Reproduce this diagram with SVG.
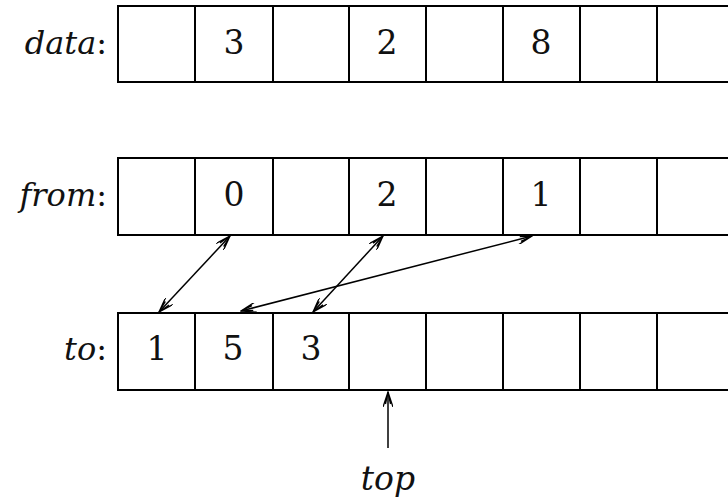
<svg xmlns="http://www.w3.org/2000/svg" width="728" height="502" viewBox="0 0 728 502">
<style>
.cell{fill:#fff;stroke:#000;stroke-width:2}
.lbl{font-family:'DejaVu Serif','Liberation Serif',serif;font-size:32px;fill:#111;text-anchor:end}
.it{font-style:italic}
.num{font-family:'DejaVu Serif','Liberation Serif',serif;font-size:33px;fill:#111;text-anchor:middle}
.conn{fill:none;stroke:#000;stroke-width:1.5}
</style>
<defs>
<marker id="ah" viewBox="0 0 16 10" refX="15" refY="5" markerWidth="16" markerHeight="10" markerUnits="userSpaceOnUse" orient="auto-start-reverse">
<path d="M0,0 L15,5 L0,10 M3,2.5 L15,5 L3,7.5" fill="none" stroke="#000" stroke-width="1.3"/>
</marker>
</defs>
<g id="data">
<text class="lbl" x="107" y="54"><tspan class="it">data</tspan>:</text>
<path class="cell" d="M730,6 H118 V82 H730 M195,6 V82 M273,6 V82 M349,6 V82 M426,6 V82 M503,6 V82 M580,6 V82 M657,6 V82"/>
<text class="num" x="234" y="54">3</text>
<text class="num" x="387" y="54">2</text>
<text class="num" x="541" y="54">8</text>
</g>
<g id="from">
<text class="lbl" x="107" y="206"><tspan class="it">from</tspan>:</text>
<path class="cell" d="M730,158 H118 V235 H730 M195,158 V235 M273,158 V235 M349,158 V235 M426,158 V235 M503,158 V235 M580,158 V235 M657,158 V235"/>
<text class="num" x="234" y="206">0</text>
<text class="num" x="387" y="206">2</text>
<text class="num" x="541" y="206">1</text>
</g>
<g id="to">
<text class="lbl" x="107" y="360"><tspan class="it">to</tspan>:</text>
<path class="cell" d="M730,313 H118 V390 H730 M195,313 V390 M273,313 V390 M349,313 V390 M426,313 V390 M503,313 V390 M580,313 V390 M657,313 V390"/>
<text class="num" x="157" y="360">1</text>
<text class="num" x="233" y="360">5</text>
<text class="num" x="311" y="360">3</text>
</g>
<g id="top">
<text class="num it" x="388" y="490">top</text>
</g>
<g id="connectors">
<line class="conn" x1="230" y1="236" x2="159" y2="312" marker-start="url(#ah)" marker-end="url(#ah)"/>
<line class="conn" x1="383" y1="236" x2="313" y2="312" marker-start="url(#ah)" marker-end="url(#ah)"/>
<line class="conn" x1="532" y1="236" x2="241" y2="311" marker-start="url(#ah)" marker-end="url(#ah)"/>
<line class="conn" x1="388" y1="448" x2="388" y2="392" marker-end="url(#ah)"/>
</g>
</svg>
